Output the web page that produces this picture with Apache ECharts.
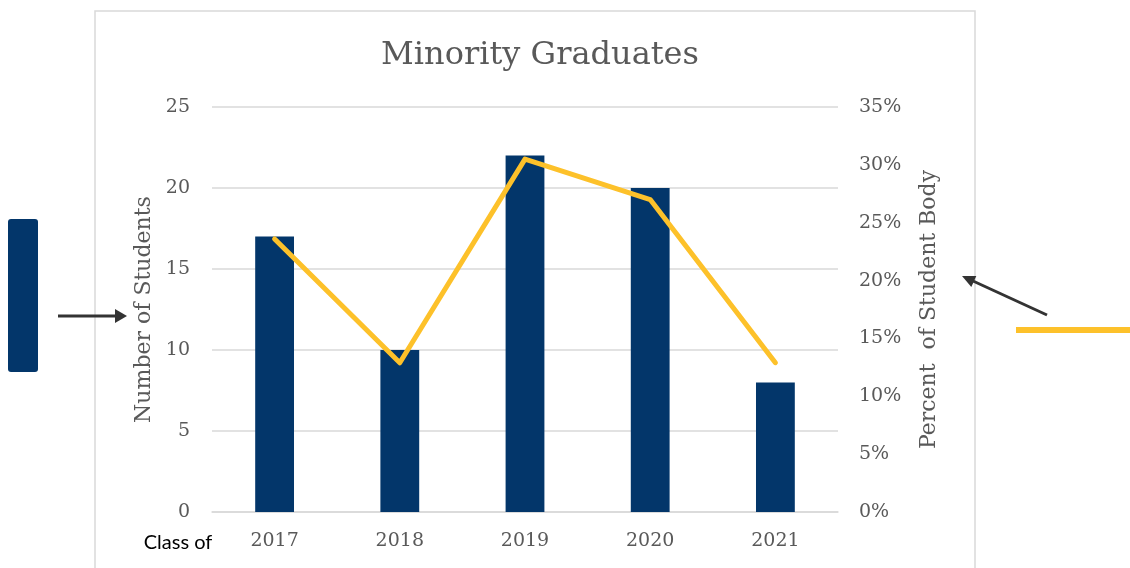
<!DOCTYPE html>
<html>
<head>
<meta charset="utf-8">
<script src="https://cdn.jsdelivr.net/npm/echarts@6/dist/echarts.min.js"></script>
<style>
html,body{margin:0;padding:0;background:#fff;}
#c{width:1130px;height:568px;}
</style>
</head>
<body>
<div id="c"></div>
<script>
var categories = ['2017', '2018', '2019', '2020', '2021'];
var studentCounts = [17, 10, 22, 20, 8];
var percentOfBody = [0.236, 0.129, 0.305, 0.270, 0.129];
var leftTicks = [0, 5, 10, 15, 20, 25];
var rightTicks = [0, 0.05, 0.10, 0.15, 0.20, 0.25, 0.30, 0.35];

var BAR = '#03366A';
var GOLD = '#FDC12A';
var TXT = '#595959';
var SERIF = '"DejaVu Serif", "Liberation Serif", serif';

var chart = echarts.init(document.getElementById('c'));
chart.setOption({
  animation: false,
  backgroundColor: '#fff',
  title: {
    text: 'Minority Graduates',
    left: 535, top: 35, textAlign: 'center',
    textStyle: {fontFamily: SERIF, fontSize: 32, fontWeight: 'normal', color: TXT}
  },
  grid: {left: 212, right: 292, top: 107, bottom: 56},
  xAxis: {
    type: 'category', data: categories,
    axisLine: {lineStyle: {color: '#d9d9d9', width: 1.5}},
    axisTick: {show: false},
    axisLabel: {color: TXT, fontFamily: SERIF, fontSize: 19, margin: 20}
  },
  yAxis: [
    {
      type: 'value', min: leftTicks[0], max: leftTicks[leftTicks.length - 1], interval: 5,
      name: 'Number of Students', nameLocation: 'middle', nameGap: 57,
      nameTextStyle: {color: TXT, fontFamily: SERIF, fontSize: 22},
      axisLine: {show: false}, axisTick: {show: false},
      axisLabel: {color: TXT, fontFamily: SERIF, fontSize: 19, margin: 22},
      splitLine: {lineStyle: {color: '#d9d9d9', width: 1.5}}
    },
    {
      type: 'value', min: rightTicks[0], max: rightTicks[rightTicks.length - 1], interval: 0.05,
      name: 'Percent  of Student Body', nameLocation: 'middle', nameGap: 80,
      nameTextStyle: {color: TXT, fontFamily: SERIF, fontSize: 22},
      axisLine: {show: false}, axisTick: {show: false},
      axisLabel: {
        color: TXT, fontFamily: SERIF, fontSize: 19, margin: 21,
        formatter: function (v) { return Math.round(v * 100) + '%'; }
      },
      splitLine: {show: false}
    }
  ],
  series: [
    {
      type: 'bar', data: studentCounts, yAxisIndex: 0,
      barWidth: '31%', itemStyle: {color: BAR}
    },
    {
      type: 'line', data: percentOfBody, yAxisIndex: 1,
      symbol: 'none',
      lineStyle: {color: GOLD, width: 5, cap: 'round', join: 'round'}
    }
  ],
  graphic: [
    {type: 'rect', shape: {x: 95, y: 11, width: 880, height: 600},
     style: {fill: 'none', stroke: '#d9d9d9', lineWidth: 1.5}, z: -1},
    {type: 'text', x: 178, y: 543,
     style: {text: 'Class of', fill: '#000', font: '20px Lato, "Open Sans", sans-serif',
             textAlign: 'center', textVerticalAlign: 'middle'}},
    {type: 'rect', shape: {x: 8, y: 219, width: 30, height: 153, r: 3},
     style: {fill: BAR}},
    {type: 'line', shape: {x1: 58, y1: 316, x2: 117, y2: 316},
     style: {stroke: '#333', lineWidth: 3}},
    {type: 'polygon', shape: {points: [[115, 309], [127, 316], [115, 323]]},
     style: {fill: '#333'}},
    {type: 'line', shape: {x1: 1047, y1: 315, x2: 973, y2: 281},
     style: {stroke: '#333', lineWidth: 3}},
    {type: 'polygon', shape: {points: [[962, 276], [976.3, 276], [971.3, 286.9]]},
     style: {fill: '#333'}},
    {type: 'line', shape: {x1: 1016, y1: 330, x2: 1130, y2: 330},
     style: {stroke: GOLD, lineWidth: 6}}
  ]
});
</script>
</body>
</html>
